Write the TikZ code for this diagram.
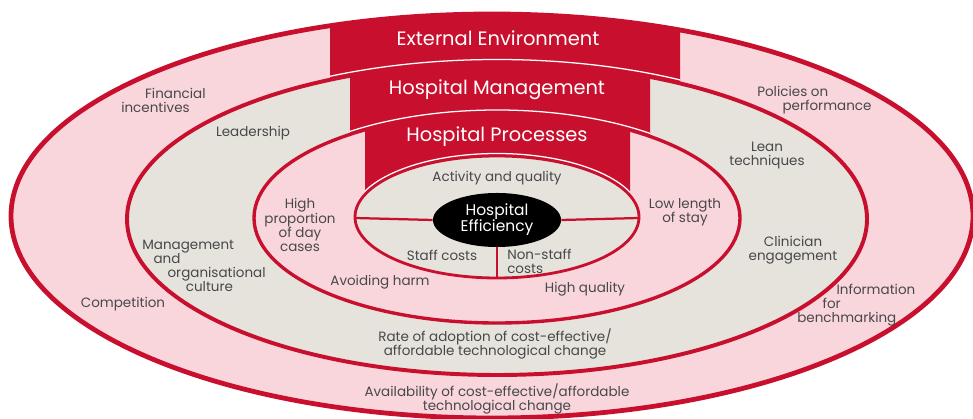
\documentclass[tikz,border=0pt]{standalone}
\usepackage{fontspec}
\setmainfont{Poppins}
\usepackage{tikz}
\usetikzlibrary{shapes.geometric}
\definecolor{ringRed}{RGB}{200,16,46}
\definecolor{ringPink}{RGB}{248,214,220}
\definecolor{ringGrey}{RGB}{229,227,220}
\definecolor{labelGrey}{RGB}{72,72,74}

\begin{document}
\begin{tikzpicture}[x=0.025cm, y=-0.025cm]

          \tikzstyle{pinkRing} = [fill=ringPink, draw=ringRed];
          \tikzstyle{greyRing} = [fill=ringGrey, draw=ringRed];
          \tikzstyle{bannerFill} = [fill=ringRed, even odd rule];
          \tikzstyle{bannerGap} = [draw=white, line width=0.9pt];
          \tikzstyle{bannerText} = [white, font=\fontsize{13.8}{15}\selectfont];
          \tikzstyle{normalText} = [labelGrey, align=center, inner sep=0pt, font=\fontsize{9.6}{10}\selectfont];
          \tikzstyle{coreEdge} = [ringRed, line width=1.6pt];

          \useasboundingbox (0,0) rectangle (973,419);

          % rings, outside in
          \draw[pinkRing, line width=3.4pt] (492,216) ellipse [x radius=481, y radius=202];
          \draw[greyRing, line width=2.8pt] (497,219) ellipse [x radius=370, y radius=156];
          \draw[pinkRing, line width=2.4pt] (497,218) ellipse [x radius=243, y radius=105];
          \draw[greyRing, line width=2pt] (497,217) ellipse [x radius=142, y radius=61];

          % banners on top of each ring
          \begin{scope}
            \clip (330,0) rectangle (680,150);
            \fill[bannerFill] (492,216) ellipse [x radius=481, y radius=202]
                              (497,219) ellipse [x radius=370, y radius=156];
            \draw[bannerGap] (497,219) ellipse [x radius=373.5, y radius=159.5];
          \end{scope}
          \begin{scope}
            \clip (350,0) rectangle (650,180);
            \fill[bannerFill] (497,219) ellipse [x radius=370, y radius=156]
                              (497,218) ellipse [x radius=243, y radius=105];
            \draw[bannerGap] (497,218) ellipse [x radius=246, y radius=108];
          \end{scope}
          \begin{scope}
            \clip (365,0) rectangle (630,200);
            \fill[bannerFill] (497,218) ellipse [x radius=243, y radius=105]
                              (497,217) ellipse [x radius=142, y radius=61];
            \draw[bannerGap] (497,217) ellipse [x radius=144.5, y radius=63.5];
          \end{scope}

          \node[bannerText] (extEnv) at (498,38) {External Environment};
          \node[bannerText] (hospMgmt) at (497,90) {Hospital Management};
          \node[bannerText] (hospProc) at (497,137) {Hospital Processes};

          % centre
          \node[ellipse, fill=black, minimum width=3.2cm, minimum height=1.35cm, inner sep=0pt,
                align=center, text=white, font=\fontsize{11}{11.5}\selectfont] (eff) at (497,220) {Hospital\\Efficiency};
          \coordinate (coreW) at (355,218);
          \coordinate (coreE) at (639,218);
          \coordinate (coreS) at (497,278);
          \draw[coreEdge] (coreW) -- (eff.west);
          \draw[coreEdge] (eff.east) -- (coreE);
          \draw[coreEdge] (eff.south) -- (coreS);

          \node[normalText] (activity) at (497,178) {Activity and quality};
          \node[normalText] (staffCosts) at (442,255) {Staff costs};
          \node[normalText, align=left, anchor=west] (nonStaff) at (507,261) {Non-staff\\costs};

          % processes ring
          \node[normalText] (dayCases) at (300,225) {High\\proportion\\of day\\cases};
          \node[normalText] (lengthStay) at (685,212) {Low length\\of stay};
          \node[normalText] (harm) at (380,282) {Avoiding harm};
          \node[normalText] (highQuality) at (585,289) {High quality};

          % management ring
          \node[normalText] (leadership) at (253,133) {Leadership};
          \node[normalText, align=left, anchor=west] (culture) at (142,266)
               {Management\\\hspace*{8pt}and\\\hspace*{18pt}organisational\\\hspace*{31pt}culture};
          \node[normalText] (lean) at (767,156) {Lean\\techniques};
          \node[normalText] (clinician) at (793,250) {Clinician\\engagement};
          \node[normalText] (adoption) at (495,344) {Rate of adoption of cost-effective/\\affordable technological change};

          % environment ring
          \node[normalText, align=left, anchor=west] (finance) at (121,100) {\hspace*{17pt}Financial\\incentives};
          \node[normalText] (competition) at (123,304) {Competition};
          \node[normalText, align=left, anchor=west] (policies) at (757,100) {Policies on\\\hspace*{18pt}performance};
          \node[normalText, align=left, anchor=west] (benchmark) at (797,305)
               {\hspace*{28pt}Information\\\hspace*{18pt}for\\benchmarking};
          \node[normalText] (availability) at (497,399) {Availability of cost-effective/affordable\\technological change};

        \end{tikzpicture}
\end{document}
